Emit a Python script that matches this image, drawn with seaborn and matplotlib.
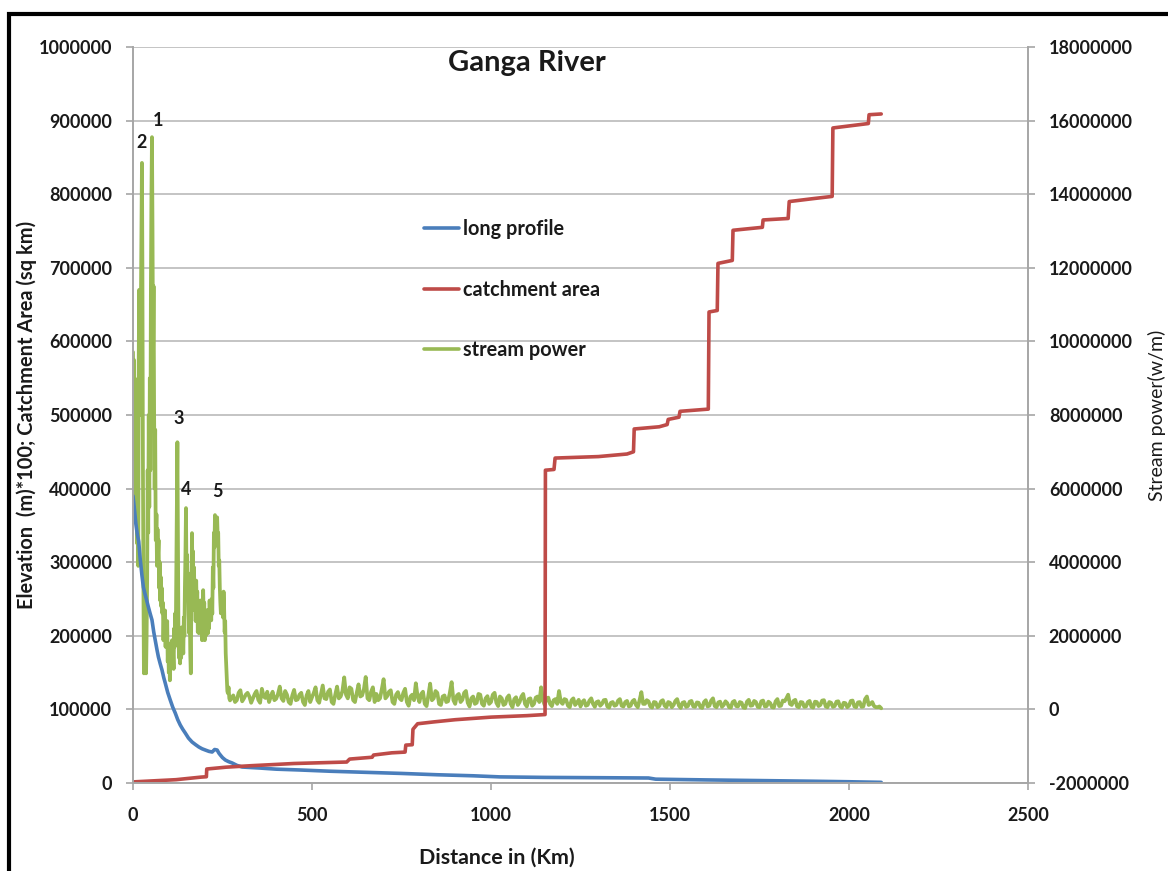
import matplotlib
matplotlib.use("Agg")
import matplotlib.pyplot as plt
import seaborn as sns
from matplotlib.lines import Line2D
from matplotlib.patches import Rectangle

sns.set_style("white")
plt.rcParams["font.family"] = ["Lato", "DejaVu Sans"]

# ---------------- data ----------------
# Long profile: elevation (m) * 100 along the river (km)
elev_km = [0, 4, 8, 12, 16, 20, 25, 29, 34, 38, 43, 48, 53, 58, 62, 67, 71, 76, 81, 86,
           90, 97, 104, 111, 118, 125, 132, 139, 146, 155, 165, 175, 184, 193, 202, 212,
           221, 228, 235, 240, 244, 250, 258, 267, 277, 290, 305, 330, 352, 400, 465, 550,
           650, 750, 850, 950, 1025, 1150, 1300, 1440, 1460, 1600, 1750, 1900, 2000, 2090]
elev_val = [390000, 372000, 352000, 338000, 328000, 305000, 282000, 266000, 256000, 248600,
            239000, 230000, 221500, 205000, 194300, 181000, 171200, 162000, 153500, 143000,
            135900, 123000, 112800, 103000, 95100, 86000, 78800, 73000, 67900, 61000,
            55700, 52000, 48900, 46500, 44800, 43000, 42100, 45500, 44800, 40500,
            38000, 34500, 31200, 29000, 27200, 24000, 21700, 21000, 20400, 18800,
            17700, 16000, 14500, 13000, 11200, 9800, 8300, 7600, 7200, 6800,
            5200, 4200, 3300, 2400, 1700, 900]

# Catchment area (sq km) along the river (km)
area_km = [0, 60, 120, 190, 205, 206, 260, 330, 450, 597, 605, 668, 672, 723, 760, 762,
           780, 782, 795, 840, 900, 1000, 1100, 1151, 1152, 1176, 1179, 1300, 1380, 1398,
           1400, 1470, 1492, 1495, 1525, 1528, 1607, 1609, 1632, 1634, 1674, 1676, 1758,
           1760, 1830, 1833, 1900, 1953, 1955, 2054, 2056, 2090]
area_val = [1500, 3000, 4500, 8000, 8500, 19000, 21500, 23500, 26500, 28500, 32500, 35000,
            38000, 41000, 42000, 51500, 52000, 73000, 80500, 83000, 86000, 89500, 91500,
            93000, 425000, 426000, 441500, 443500, 447000, 450000, 481000, 484000, 487000,
            494000, 497000, 505000, 508000, 640000, 642000, 706000, 710000, 751000, 755000,
            765000, 767000, 790000, 794000, 797000, 890000, 896000, 908000, 909000]

# Stream power (w/m) along the river (km): steep upper reach
sp_upper_km = [0, 1.2, 2.4, 3.6, 4.8, 6, 7.2, 8.4, 9.6, 11, 12.2, 13.4, 14.6, 16, 17.2, 18.4,
               19.6, 21, 22.2, 23.5, 25, 26.3, 27.6, 29, 30.5, 32, 33.5, 35, 36.5, 38, 39.5,
               41, 42.5, 44, 45.5, 47, 48.5, 50, 51.5, 53, 54.5, 56, 57.5, 59, 60.5, 62, 63.5,
               64, 65.5, 67, 68.5, 70, 71.5, 73, 74.5, 76, 77.5, 79, 80.5, 82, 83.5, 85, 86.5,
               88, 89.5, 91, 92.5, 94, 95.5, 97, 98.5, 100, 101.5, 103, 104.5, 106, 107.5,
               109, 110.5, 112, 113.5, 115, 116.5, 118, 119.5, 121, 122.5, 124, 125.5, 127,
               128.5, 130, 131.5, 133, 134.5, 136, 137.5, 139, 140.5, 142, 143.5, 145, 146.5,
               148, 149.5, 151, 152.5, 154, 155.5, 157, 158.5, 160, 161.5, 163, 164.8, 166,
               167.5, 169, 170.5, 172, 173.5, 175, 176.5, 178, 179.5, 181, 182.5, 184, 185.5,
               187, 188.5, 190, 191.5, 193, 194.5, 196, 197.5, 199, 200.5, 202, 203.5, 205,
               206.5, 208, 209.5, 211, 212.5, 214, 215.5, 217, 218.5, 220, 221.5, 223, 224.5,
               226, 227.5, 229, 230.5, 232, 233.5, 235, 236.5, 238, 239.5, 241, 242.5, 244,
               245.5, 247, 248.5, 250, 251.5, 253, 254.5, 256, 257.5, 259, 260.5, 262, 263.5,
               265, 267, 269, 271]
sp_upper_wm = [9710000, 7200000, 9500000, 6800000, 9000000, 7500000, 5200000, 8800000,
               6200000, 8300000, 4500000, 7000000, 3900000, 9500000, 11400000, 8000000,
               10400000, 9000000, 11200000, 13000000, 14850000, 12000000, 7000000, 3500000,
               980000, 2200000, 1300000, 1880000, 980000, 2000000, 3500000, 6500000, 4800000,
               8000000, 5500000, 9000000, 6500000, 11500000, 14000000, 15550000, 13000000,
               9500000, 11500000, 8000000, 6000000, 7600000, 4600000,
               4600000, 5300000, 3900000, 4900000, 4200000, 4600000, 3300000, 4000000, 2960000,
               3600000, 2800000, 3300000, 2610000, 2900000, 1880000, 2500000, 1900000, 2690000,
               1700000, 2300000, 2070000, 2400000, 1300000, 1800000, 1000000, 1500000, 790000,
               1300000, 1700000, 1200000, 1880000, 1300000, 1520000, 1100000, 2200000, 1700000,
               2610000, 2000000, 3860000, 5500000, 7260000, 4500000, 2070000, 1400000, 2000000,
               1250000, 1900000, 1400000, 2230000, 1600000, 1900000, 1520000, 2500000, 2000000,
               3320000, 4200000, 5470000, 3500000, 4200000, 3000000, 3700000, 2600000, 2070000,
               2800000, 1500000, 980000, 3000000, 4790000, 3600000, 4300000, 3000000, 3860000,
               2700000, 3300000, 2400000, 3500000, 2800000, 3200000, 2100000, 2600000, 2070000,
               2900000, 2300000, 2960000, 2200000, 2600000, 1880000, 2800000, 3240000, 2500000,
               2900000, 1880000, 2400000, 2000000, 2610000, 2200000, 2700000, 2070000, 2500000,
               2200000, 2960000, 2500000, 2700000, 2420000, 3000000, 2600000, 3860000, 3300000,
               4800000, 4400000, 5280000, 4900000, 5100000, 4800000, 5220000, 4700000, 4800000,
               3900000, 4050000, 3300000, 2900000, 2610000, 3000000, 2700000, 2960000, 2500000,
               3200000, 2770000, 2100000, 2400000, 1520000, 1200000, 900000, 500000, 440000,
               600000, 300000, 245000]

# Stream power (w/m) along the river (km): plains reach, every 5 km
sp_plain_km = [
    280, 285, 290, 295, 300, 305, 310, 315, 320, 325, 330, 335, 340, 345, 350, 355, 360, 365, 370, 375,
    380, 385, 390, 395, 400, 405, 410, 415, 420, 425, 430, 435, 440, 445, 450, 455, 460, 465, 470, 475,
    480, 485, 490, 495, 500, 505, 510, 515, 520, 525, 530, 535, 540, 545, 550, 555, 560, 565, 570, 575,
    580, 585, 590, 595, 600, 605, 610, 615, 620, 625, 630, 635, 640, 645, 650, 655, 660, 665, 670, 675,
    680, 685, 690, 695, 700, 705, 710, 715, 720, 725, 730, 735, 740, 745, 750, 755, 760, 765, 770, 775,
    780, 785, 790, 795, 800, 805, 810, 815, 820, 825, 830, 835, 840, 845, 850, 855, 860, 865, 870, 875,
    880, 885, 890, 895, 900, 905, 910, 915, 920, 925, 930, 935, 940, 945, 950, 955, 960, 965, 970, 975,
    980, 985, 990, 995, 1000, 1005, 1010, 1015, 1020, 1025, 1030, 1035, 1040, 1045, 1050, 1055, 1060,
    1065, 1070, 1075,
    1080, 1085, 1090, 1095, 1100, 1105, 1110, 1115, 1120, 1125, 1130, 1135, 1140, 1145, 1150, 1155,
    1160, 1165, 1170, 1175,
    1180, 1185, 1190, 1195, 1200, 1205, 1210, 1215, 1220, 1225, 1230, 1235, 1240, 1245, 1250, 1255,
    1260, 1265, 1270, 1275,
    1280, 1285, 1290, 1295, 1300, 1305, 1310, 1315, 1320, 1325, 1330, 1335, 1340, 1345, 1350, 1355,
    1360, 1365, 1370, 1375,
    1380, 1385, 1390, 1395, 1400, 1405, 1410, 1415, 1420, 1425, 1430, 1435, 1440, 1445, 1450, 1455,
    1460, 1465, 1470, 1475,
    1480, 1485, 1490, 1495, 1500, 1505, 1510, 1515, 1520, 1525, 1530, 1535, 1540, 1545, 1550, 1555,
    1560, 1565, 1570, 1575,
    1580, 1585, 1590, 1595, 1600, 1605, 1610, 1615, 1620, 1625, 1630, 1635, 1640, 1645, 1650, 1655,
    1660, 1665, 1670, 1675,
    1680, 1685, 1690, 1695, 1700, 1705, 1710, 1715, 1720, 1725, 1730, 1735, 1740, 1745, 1750, 1755,
    1760, 1765, 1770, 1775,
    1780, 1785, 1790, 1795, 1800, 1805, 1810, 1815, 1820, 1825, 1830, 1835, 1840, 1845, 1850, 1855,
    1860, 1865, 1870, 1875,
    1880, 1885, 1890, 1895, 1900, 1905, 1910, 1915, 1920, 1925, 1930, 1935, 1940, 1945, 1950, 1955,
    1960, 1965, 1970, 1975,
    1980, 1985, 1990, 1995, 2000, 2005, 2010, 2015, 2020, 2025, 2030, 2035, 2040, 2045, 2050, 2055,
    2060, 2065, 2070, 2075,
    2080, 2085, 2090]
sp_plain_wm = [
    380000, 200000, 250000, 450000, 520000, 220000, 300000, 400000, 450000, 350000,
    180000, 300000, 420000, 500000, 260000, 180000, 560000, 350000, 310000, 480000,
    200000, 350000, 480000, 250000, 290000, 420000, 620000, 300000, 230000, 500000,
    400000, 200000, 150000, 380000, 530000, 250000, 270000, 400000, 450000, 200000,
    120000, 380000, 500000, 200000, 330000, 450000, 600000, 250000, 180000, 420000,
    650000, 300000, 280000, 480000, 540000, 200000, 150000, 400000, 620000, 300000,
    350000, 500000, 870000, 400000, 300000, 600000, 560000, 250000, 200000, 450000,
    680000, 350000, 380000, 550000, 880000, 300000, 250000, 480000, 600000, 200000,
    420000, 250000, 300000, 550000, 820000, 300000, 360000, 480000, 520000, 200000,
    150000, 400000, 470000, 300000, 250000, 450000, 560000, 200000, 100000, 350000,
    400000, 250000, 710000, 350000, 200000, 420000, 480000, 150000, 90000, 380000,
    700000, 250000, 300000, 500000, 450000, 150000, 120000, 350000, 380000, 200000,
    220000, 450000, 740000, 250000, 150000, 380000, 420000, 200000, 260000, 450000,
    500000, 180000, 80000, 300000, 350000, 150000, 180000, 420000, 400000, 150000,
    100000, 300000, 360000, 150000, 200000, 400000, 450000, 180000, 90000, 350000,
    300000, 120000, 150000, 320000, 380000, 150000, 60000, 280000, 330000, 120000,
    200000, 350000, 420000, 150000, 80000, 280000, 300000, 100000, 150000, 320000,
    350000, 200000, 600000, 250000, 120000, 300000, 320000, 150000, 90000, 250000,
    280000, 150000, 500000, 200000, 150000, 280000, 260000, 100000, 60000, 250000,
    300000, 120000, 180000, 260000, 80000, 200000, 250000, 100000, 120000, 240000,
    300000, 150000, 70000, 200000, 220000, 100000, 150000, 250000, 260000, 80000,
    50000, 180000, 200000, 100000, 120000, 240000, 280000, 100000, 80000, 200000,
    230000, 80000, 100000, 220000, 260000, 120000, 60000, 250000, 470000, 150000,
    150000, 250000, 220000, 80000, 50000, 200000, 190000, 60000, 90000, 220000,
    250000, 100000, 60000, 200000, 180000, 60000, 120000, 230000, 280000, 100000,
    40000, 180000, 200000, 70000, 90000, 210000, 230000, 80000, 70000, 190000,
    180000, 60000, 40000, 200000, 250000, 80000, 100000, 240000, 300000, 90000,
    60000, 190000, 210000, 70000, 120000, 220000, 170000, 60000, 50000, 200000,
    230000, 90000, 80000, 200000, 180000, 50000, 40000, 210000, 260000, 100000,
    110000, 230000, 200000, 70000, 60000, 220000, 240000, 80000, 90000, 210000,
    170000, 60000, 50000, 220000, 280000, 90000, 100000, 240000, 220000, 300000,
    400000, 150000, 120000, 230000, 260000, 80000, 60000, 200000, 190000, 70000,
    80000, 200000, 230000, 70000, 50000, 210000, 200000, 90000, 120000, 240000,
    250000, 80000, 60000, 200000, 180000, 70000, 90000, 210000, 220000, 80000,
    50000, 180000, 170000, 60000, 100000, 230000, 240000, 80000, 60000, 190000,
    200000, 70000, 80000, 280000, 350000, 120000, 150000, 200000, 90000, 60000,
    60000, 80000, 30000]

left_ticks = [0, 100000, 200000, 300000, 400000, 500000, 600000, 700000, 800000, 900000, 1000000]
right_ticks = [-2000000, 0, 2000000, 4000000, 6000000, 8000000, 10000000, 12000000,
               14000000, 16000000, 18000000]
x_ticks = [0, 500, 1000, 1500, 2000, 2500]

series_names = ["long profile", "catchment area", "stream power"]
peak_labels = ["1", "2", "3", "4", "5"]

sp_km = sp_upper_km + sp_plain_km
sp_wm = sp_upper_wm + sp_plain_wm

# ---------------- style ----------------
BLUE = "#4a7ebb"
RED = "#be4b48"
GREEN = "#98b954"
GRID = "#c4c4c4"
AXIS = "#a6a6a6"
TXT = "#1a1a1a"
LW = 2.6

fig = plt.figure(figsize=(11.68, 8.71), dpi=100)
ax = fig.add_axes([133 / 1168, 1 - 783 / 871, (1028 - 133) / 1168, (783 - 47) / 871])
ax2 = ax.twinx()

# stream power on the secondary axis, drawn underneath the primary series
sns.lineplot(x=sp_km, y=sp_wm, ax=ax2, color=GREEN, lw=2.7, sort=False, estimator=None)
sns.lineplot(x=elev_km, y=elev_val, ax=ax, color=BLUE, lw=LW, sort=False, estimator=None)
sns.lineplot(x=area_km, y=area_val, ax=ax, color=RED, lw=LW, sort=False, estimator=None)
ax.set_zorder(ax2.get_zorder() + 1)
ax.patch.set_visible(False)

ax.set_xlim(0, 2500)
ax.set_ylim(0, 1000000)
ax2.set_ylim(-2000000, 18000000)

tick_font = dict(fontsize=13, fontweight="bold", color=TXT)
ax.set_xticks(x_ticks)
ax.set_xticklabels([str(v) for v in x_ticks], **tick_font)
ax.set_yticks(left_ticks)
ax.set_yticklabels([str(v) for v in left_ticks], **tick_font)
ax2.set_yticks(right_ticks)
ax2.set_yticklabels([str(v) for v in right_ticks], **tick_font)

# horizontal gridlines (secondary ticks coincide with primary ticks)
ax.grid(False)
ax2.yaxis.grid(True, color=GRID, lw=1.4)
ax2.xaxis.grid(False)
ax2.set_axisbelow(True)

for a in (ax, ax2):
    for s in a.spines.values():
        s.set_visible(False)
ax.spines["left"].set_visible(True)
ax.spines["bottom"].set_visible(True)
ax2.spines["right"].set_visible(True)
for s in (ax.spines["left"], ax.spines["bottom"], ax2.spines["right"]):
    s.set_color(AXIS)
    s.set_linewidth(1.4)

ax.tick_params(axis="both", direction="out", length=5, width=1.2, color=AXIS)
ax.tick_params(axis="y", pad=10, left=True)
ax.tick_params(axis="x", pad=12, bottom=True)
ax2.tick_params(axis="y", direction="out", length=5, width=1.2, color=AXIS, pad=10, right=True)

ax.set_xlabel("")
ax.set_ylabel("")
ax2.set_ylabel("")

# axis titles
fig.text(27 / 1168, 1 - 415 / 871, "Elevation  (m)*100; Catchment Area (sq km)",
         rotation=90, ha="center", va="center", fontsize=14.4, fontweight="bold", color=TXT)
fig.text(1157 / 1168, 1 - 415 / 871, "Stream power(w/m)",
         rotation=90, ha="center", va="center", fontsize=14, color=TXT)
fig.text(497 / 1168, 1 - 858 / 871, "Distance in (Km)",
         ha="center", va="center", fontsize=15.4, fontweight="bold", color=TXT)

# chart title
fig.text(527 / 1168, 1 - 63 / 871, "Ganga River", ha="center", va="center",
         fontsize=21, fontweight="bold", color=TXT)

# numbered stream power peaks
peak_pos = [(70, 900800), (25, 869600), (128, 495900), (148, 398100), (235, 395400)]
for lab, (px, py) in zip(peak_labels, peak_pos):
    ax.text(px, py, lab, ha="center", va="center", fontsize=13, fontweight="bold", color=TXT)

# legend
handles = [Line2D([], [], color=c, lw=LW) for c in (BLUE, RED, GREEN)]
leg = ax.legend(handles, series_names, loc="upper left",
                bbox_to_anchor=(424 / 1168, 1 - 219 / 871), bbox_transform=fig.transFigure,
                frameon=False, borderpad=0, borderaxespad=0, handlelength=1.76,
                handletextpad=0.18, labelspacing=2.05,
                prop=dict(family=["Lato", "DejaVu Sans"], weight="bold", size=14.3))
for t in leg.get_texts():
    t.set_color(TXT)

# outer frame of the figure
fig.patches.append(Rectangle((8.5 / 1168, -0.2), 1.5, 1.2 - 13.5 / 871, transform=fig.transFigure,
                             fill=False, edgecolor="black", lw=3, clip_on=False))

fig.savefig("out.png", dpi=100)
